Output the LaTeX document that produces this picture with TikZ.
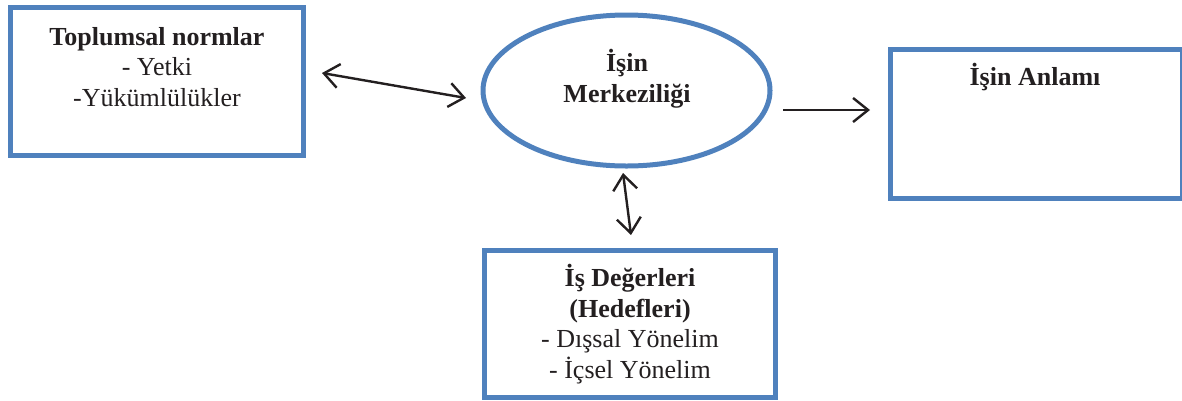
\documentclass[tikz,border=0pt]{standalone}
\usepackage{fontspec}
\setmainfont{Liberation Serif}
\usetikzlibrary{arrows.meta,shapes.geometric}
\definecolor{boxblue}{RGB}{79,129,189}
\definecolor{ink}{RGB}{35,31,32}
\begin{document}
\begin{tikzpicture}[x=1pt,y=-1pt,
  bluebox/.style={draw=boxblue,line width=5pt,rectangle,inner sep=0pt},
  blueell/.style={draw=boxblue,line width=5pt,ellipse,inner sep=0pt},
  lbl/.style={anchor=base,align=center,inner sep=0pt,text=ink,font=\fontsize{26}{30.5}\selectfont},
  tip/.style={Straight Barb[length=15pt,width=24pt,line width=2.4pt]},
  conn/.style={draw=ink,line width=2.4pt,{Straight Barb[length=15pt,width=24pt,line width=2.4pt]}-{Straight Barb[length=15pt,width=24pt,line width=2.4pt]}},
  conn1/.style={draw=ink,line width=2.4pt,-{Straight Barb[length=15pt,width=24pt,line width=2.4pt]}}
]
\useasboundingbox (0,0) rectangle (1182,400);
\begin{scope}
\clip (0,0) rectangle (1182,400);
\node[bluebox,minimum width=293pt,minimum height=148pt] (norm) at (156.5,81) {};
\node[blueell,minimum width=287pt,minimum height=151pt] (merk) at (626.5,90.5) {};
\node[bluebox,minimum width=292pt,minimum height=149pt] (anlam) at (1036,123.5) {};
\node[bluebox,minimum width=291pt,minimum height=147pt] (deger) at (630,323.5) {};
\end{scope}
\node[lbl] (normt) at (157,106) {\textbf{Toplumsal normlar}\\- Yetki\\-Yükümlülükler};
\node[lbl] (merkt) at (627,102) {\textbf{İşin}\\\textbf{Merkeziliği}};
\node[lbl] (anlamt) at (1035,85) {\textbf{İşin Anlamı}};
\node[lbl] (degert) at (630,378) {\textbf{İş Değerleri}\\\textbf{(Hedefleri)}\\- Dışsal Yönelim\\- İçsel Yönelim};
\coordinate (a1s) at (322,73);
\coordinate (a1e) at (466,98);
\coordinate (a2s) at (623,173);
\coordinate (a2e) at (631,235);
\coordinate (a3s) at (783,110);
\coordinate (a3e) at (870,110);
\draw[conn] (a1s) -- (a1e);
\draw[conn] (a2s) -- (a2e);
\draw[conn1] (a3s) -- (a3e);
\end{tikzpicture}
\end{document}
